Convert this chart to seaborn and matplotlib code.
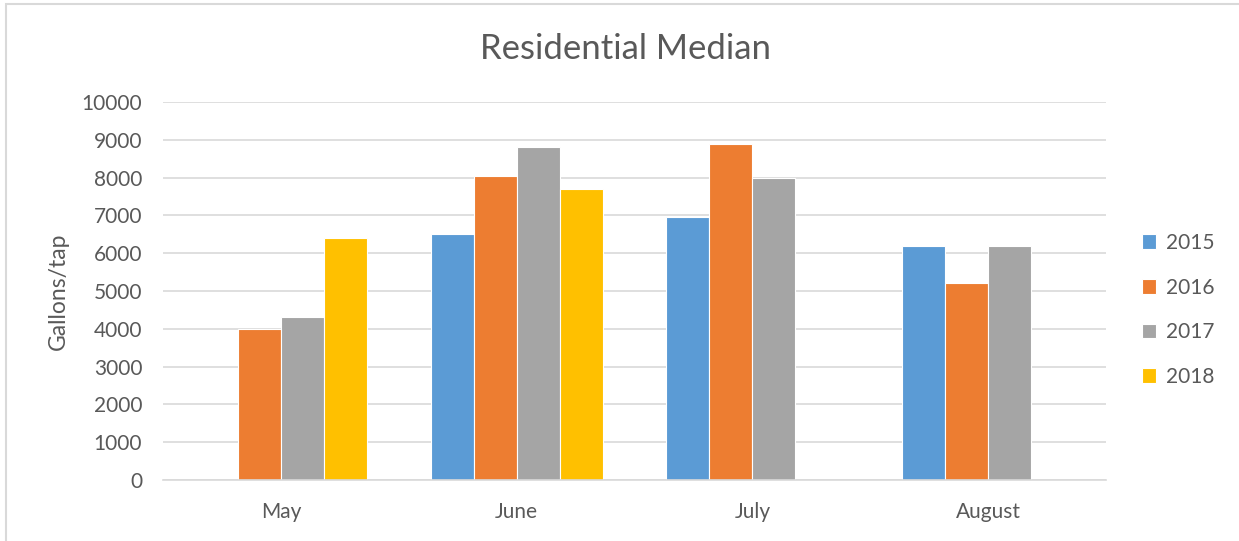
import pandas as pd
import seaborn as sns
import matplotlib.pyplot as plt
from matplotlib.patches import Rectangle

# 数据
months = ['May', 'June', 'July', 'August']
years = ['2015', '2016', '2017', '2018']
vals_2015 = [None, 6500, 6950, 6200]
vals_2016 = [4000, 8050, 8900, 5200]
vals_2017 = [4300, 8800, 8000, 6200]
vals_2018 = [6400, 7700, None, None]
colors = ['#5B9BD5', '#ED7D31', '#A5A5A5', '#FFC000']

rows = []
for year, vals in zip(years, [vals_2015, vals_2016, vals_2017, vals_2018]):
    for m, v in zip(months, vals):
        if v is not None:
            rows.append({'month': m, 'year': year, 'value': v})
df = pd.DataFrame(rows)

sns.set_theme(style='white')
plt.rcParams['font.family'] = ['Lato', 'DejaVu Sans']
text_color = '#595959'

fig = plt.figure(figsize=(12.39, 5.41), dpi=100)
ax = fig.add_axes([163 / 1239, 1 - 480 / 541, (1106 - 163) / 1239, (480 - 102) / 541])

sns.barplot(data=df, x='month', y='value', hue='year', order=months, hue_order=years,
            palette=colors, saturation=1, width=0.73, edgecolor='white', linewidth=0.8, ax=ax)

ax.set_xlim(-0.5, 3.5)
ax.set_ylim(0, 10000)
ax.set_yticks(range(0, 10001, 1000))
ax.yaxis.grid(True, color='#D9D9D9', linewidth=1.2)
ax.set_axisbelow(True)
for s in ['top', 'right', 'left']:
    ax.spines[s].set_visible(False)
ax.spines['bottom'].set_color('#D9D9D9')
ax.spines['bottom'].set_linewidth(1.2)
ax.tick_params(axis='both', length=0, labelsize=15, labelcolor=text_color)
ax.tick_params(axis='y', pad=15)
ax.tick_params(axis='x', pad=16)
ax.set_xlabel('')
ax.set_ylabel('Gallons/tap', fontsize=16.5, color=text_color, labelpad=9)

fig.text(0.505, 0.909, 'Residential Median', ha='center', va='center', fontsize=25, color=text_color)

leg = ax.legend(loc='center left', bbox_to_anchor=(1.018, 0.45), frameon=False,
                fontsize=15, labelspacing=1.18, handlelength=0.7, handleheight=0.7,
                handletextpad=0.45)
for t in leg.get_texts():
    t.set_color(text_color)

# 图表外框
fig.patches.append(Rectangle((6 / 1239, -0.01), 1.02, 1 - 4 / 541 + 0.01, transform=fig.transFigure,
                             fill=False, edgecolor='#D9D9D9', linewidth=1.5))

fig.savefig('out.png', dpi=100)
